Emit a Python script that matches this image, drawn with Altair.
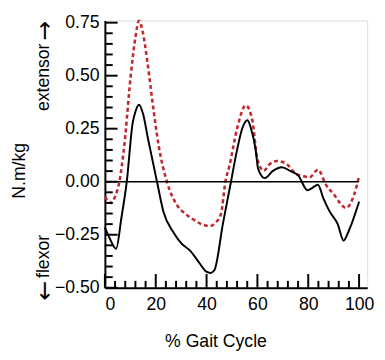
import altair as alt
import pandas as pd

# Black solid curve (% gait cycle, N.m/kg)
black_x = [0, 2, 4.4, 6.5, 8.6, 10.9, 12, 13.4, 15, 17, 20.5, 23, 27, 30, 33.4, 37, 39.9, 41.5, 43.1,
           46.4, 49.6, 52, 54, 56.1, 57.5, 59.3, 60.3, 62.9, 66, 69.6, 73, 76.1, 79.7, 81.5, 83.8,
           86, 88.4, 91.6, 93.9, 96, 100]
black_y = [-0.217, -0.27, -0.316, -0.17, 0.0, 0.275, 0.33, 0.363, 0.32, 0.2, 0.0, -0.14, -0.24, -0.29,
           -0.324, -0.38, -0.424, -0.43, -0.416, -0.2, 0.0, 0.15, 0.25, 0.29, 0.25, 0.152, 0.06,
           0.017, 0.05, 0.068, 0.05, 0.029, -0.04, -0.03, -0.014, -0.08, -0.14, -0.2, -0.278,
           -0.23, -0.094]

# Red dotted curve
red_x = [0, 2.5, 4, 5.7, 7.6, 10.2, 12, 13.4, 15, 16.7, 19, 21.2, 24.4, 28.3, 31.5, 34.8, 38, 41.2,
         43.8, 45.7, 47.4, 49, 52, 55.4, 58, 60, 62.5, 65, 67.7, 71.6, 74, 76.7, 80.6, 83.8, 87.1,
         90.3, 92.5, 94.8, 98, 100]
red_y = [-0.07, -0.10, -0.07, 0.0, 0.167, 0.505, 0.68, 0.759, 0.7, 0.567, 0.35, 0.167, 0.0, -0.109,
         -0.15, -0.178, -0.2, -0.209, -0.19, -0.15, 0.0, 0.075, 0.25, 0.36, 0.29, 0.106, 0.052,
         0.085, 0.098, 0.083, 0.05, 0.029, 0.022, 0.057, -0.017, -0.063, -0.1, -0.124, -0.063,
         0.026]

x_major = [0, 20, 40, 60, 80, 100]
x_minor = [v for v in range(0, 101, 4) if v % 20 != 0]
y_major = [-0.5, -0.25, 0.0, 0.25, 0.5, 0.75]
y_minor = [round(-0.5 + 0.05 * i, 2) for i in range(26) if i % 5 != 0]

W, H = 268, 273
FONT = "Liberation Sans"
FS = 18

black_df = pd.DataFrame({"x": black_x, "y": black_y})
red_df = pd.DataFrame({"x": red_x, "y": red_y})

xscale = alt.Scale(domain=[0, 103.2], nice=False, zero=False)
yscale = alt.Scale(domain=[-0.5, 0.76], nice=False, zero=False)

xaxis = alt.Axis(values=x_major, ticks=False, grid=False, domainColor="black", domainWidth=2,
                 labelFont=FONT, labelFontSize=FS, labelColor="black", labelPadding=8,
                 title="% Gait Cycle", titleFont=FONT, titleFontSize=FS, titleFontWeight="normal",
                 titleColor="black", titleX=113, titleY=55, titleAlign="center",
                 titleBaseline="middle")
yaxis = alt.Axis(values=y_major, format=".2f", ticks=False, grid=False, domainColor="black",
                 domainWidth=2, labelFont=FONT, labelFontSize=FS, labelColor="black",
                 labelPadding=6, title="N.m/kg", titleFont=FONT, titleFontSize=FS,
                 titleFontWeight="normal", titleColor="black", titleX=-87, titleY=153,
                 titleAlign="center", titleBaseline="middle", titleAngle=270)

red = alt.Chart(red_df).mark_line(color="#c1272d", strokeWidth=2.6, strokeDash=[4, 3],
                                  interpolate="monotone").encode(
    x=alt.X("x:Q", scale=xscale, axis=xaxis),
    y=alt.Y("y:Q", scale=yscale, axis=yaxis),
)
black = alt.Chart(black_df).mark_line(color="black", strokeWidth=2,
                                      interpolate="monotone").encode(
    x=alt.X("x:Q", scale=xscale),
    y=alt.Y("y:Q", scale=yscale),
)
zero = alt.Chart(pd.DataFrame({"a": [0]})).mark_rule(color="black", strokeWidth=1.5).encode(
    x=alt.datum(0), x2=alt.datum(100), y=alt.datum(0)
)

ytick_major = alt.Chart(pd.DataFrame({"v": y_major})).mark_rule(color="black", strokeWidth=2).encode(
    y=alt.Y("v:Q", scale=yscale), x=alt.value(0), x2=alt.value(13))
ytick_minor = alt.Chart(pd.DataFrame({"v": y_minor})).mark_rule(color="black", strokeWidth=2).encode(
    y=alt.Y("v:Q", scale=yscale), x=alt.value(0), x2=alt.value(8))
xtick_major = alt.Chart(pd.DataFrame({"v": x_major})).mark_rule(color="black", strokeWidth=2).encode(
    x=alt.X("v:Q", scale=xscale), y=alt.value(H), y2=alt.value(H - 14))
xtick_minor = alt.Chart(pd.DataFrame({"v": x_minor})).mark_rule(color="black", strokeWidth=2).encode(
    x=alt.X("v:Q", scale=xscale), y=alt.value(H), y2=alt.value(H - 7))


def side_text(txt, xpos, ypos, font, size):
    return alt.Chart(pd.DataFrame({"t": [txt]})).mark_text(
        font=font, fontSize=size, angle=270, align="center", baseline="middle",
        color="black").encode(text="t:N", x=alt.value(xpos), y=alt.value(ypos))


side_words = ["extensor", "flexor"]
arrows = ["\u2192", "\u2190"]
ext = side_text(side_words[0], -62, 58, FONT, FS)
ext_arrow = side_text(arrows[0], -61, 10, "DejaVu Sans", 24)
flx = side_text(side_words[1], -62, 241, FONT, FS)
flx_arrow = side_text(arrows[1], -61, 276, "DejaVu Sans", 24)

chart = alt.layer(red, zero, black, ytick_major, ytick_minor, xtick_major, xtick_minor,
                  ext, ext_arrow, flx, flx_arrow).properties(
    width=W, height=H,
    autosize=alt.AutoSizeParams(type="none"),
    padding={"left": 99, "top": 9, "right": 10, "bottom": 70},
).configure_view(stroke=None).configure(background="white")

chart.save("out.html", embed_options={"renderer": "svg", "actions": False})
